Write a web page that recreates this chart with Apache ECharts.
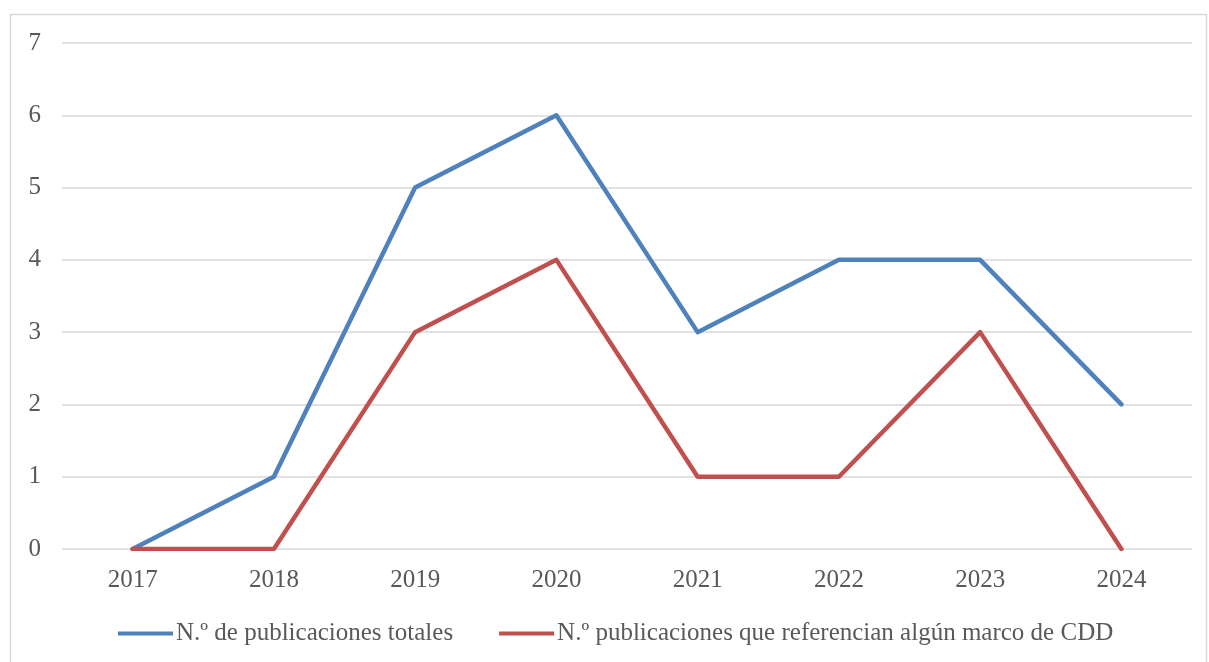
<!DOCTYPE html>
<html><head><meta charset="utf-8">
<script src="https://cdn.jsdelivr.net/npm/echarts@6/dist/echarts.min.js"></script>
<style>html,body{margin:0;padding:0;background:#fff}#c{width:1209px;height:662px}</style>
</head><body><div id="c"></div>
<script>
const categories = ['2017','2018','2019','2020','2021','2022','2023','2024'];
const seriesTotal = [0,1,5,6,3,4,4,2];
const seriesCDD = [0,0,3,4,1,1,3,0];
const seriesNames = ['N.º de publicaciones totales','N.º publicaciones que referencian algún marco de CDD'];
const yTicks = {min:0, max:7, interval:1};
const font = 'Liberation Serif';
const chart = echarts.init(document.getElementById('c'));
chart.setOption({
  animation:false,
  graphic:[{type:'rect',shape:{x:10.5,y:14.5,width:1196,height:660},style:{fill:'none',stroke:'#d9d9d9',lineWidth:1.5},silent:true}],
  grid:{left:62,right:17,top:43,bottom:113,containLabel:false},
  legend:{top:616,left:113,itemWidth:55,itemHeight:4,itemGap:46,
    icon:'rect',
    textStyle:{fontFamily:font,fontSize:25,color:'#595959',padding:[0,0,0,-2]},
    data:seriesNames},
  xAxis:{type:'category',data:categories,boundaryGap:true,
    axisLine:{show:false},axisTick:{show:false},
    axisLabel:{fontFamily:font,fontSize:25,color:'#595959',margin:19}},
  yAxis:{type:'value',min:yTicks.min,max:yTicks.max,interval:yTicks.interval,
    axisLine:{show:false},axisTick:{show:false},
    splitLine:{lineStyle:{color:'#d9d9d9',width:1.5}},
    axisLabel:{fontFamily:font,fontSize:25,color:'#595959',margin:21,align:'right'}},
  series:[
    {name:seriesNames[0],type:'line',data:seriesTotal,symbol:'none',
      lineStyle:{color:'#4F81BD',width:4.5,cap:'round',join:'round'},itemStyle:{color:'#4F81BD'}},
    {name:seriesNames[1],type:'line',data:seriesCDD,symbol:'none',
      lineStyle:{color:'#C0504D',width:4.5,cap:'round',join:'round'},itemStyle:{color:'#C0504D'}}
  ]
});
</script></body></html>
